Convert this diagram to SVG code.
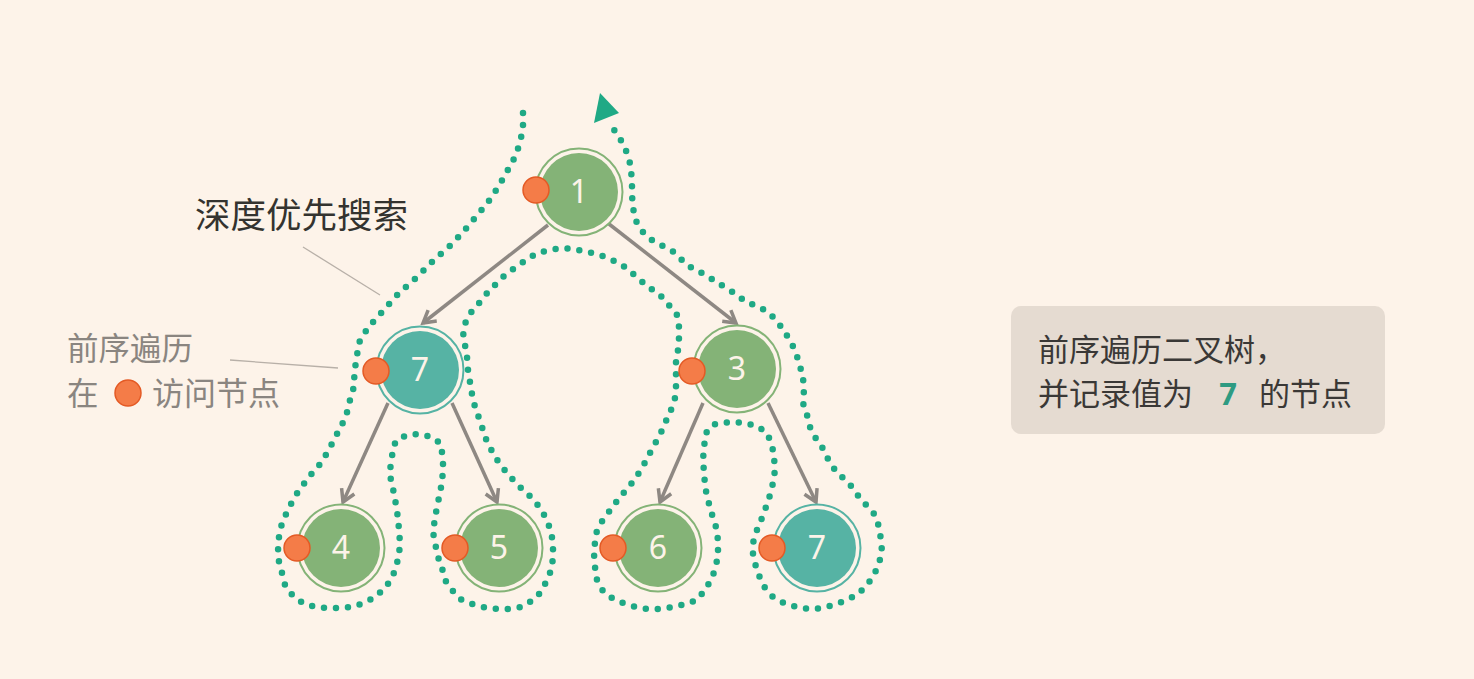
<svg xmlns="http://www.w3.org/2000/svg" width="1474" height="679" viewBox="0 0 1474 679">
  <defs>
    <style>
      .ring-green { fill: none; stroke: #84b377; stroke-width: 2; }
      .ring-teal { fill: none; stroke: #56b3a4; stroke-width: 2; }
      .fill-green { fill: #84b377; }
      .fill-teal { fill: #56b3a4; }
      .num { font-family: "Noto Sans", "DejaVu Sans", sans-serif; font-size: 32px; fill: #fdf3e9; text-anchor: middle; }
      .visit { fill: #f47c48; stroke: #e45a25; stroke-width: 1.5; }
      .edge { fill: none; stroke: #8e8883; stroke-width: 3.5; marker-end: url(#chev); }
      .trail { fill: none; stroke: #1fa985; stroke-width: 6.5; stroke-linecap: round; stroke-linejoin: round; stroke-dasharray: 0 12; }
      .leader { fill: none; stroke: #b8b0a8; stroke-width: 1.3; }
      .cjk { font-family: "Noto Sans CJK SC", "Noto Sans", sans-serif; }
    </style>
    <marker id="chev" viewBox="0 0 18 18" refX="15" refY="9" markerWidth="18" markerHeight="18" markerUnits="userSpaceOnUse" orient="auto">
      <path d="M3,2 L15,9 L3,16" fill="none" stroke="#8e8883" stroke-width="3.5" stroke-linejoin="miter"/>
    </marker>
  </defs>

  <rect width="1474" height="679" fill="#fdf3e9"/>

  <!-- depth-first trail around the tree -->
  <g id="trail">
    <polyline class="trail" points="523,113 523,126 521,138 517,152 512,163 506,173 500,184 493,195 486,205 478,214 470,224 462,233 453,243 443,252 434,260 426,268 417,277 408,285 399,293 390,303 382,312 373,322 366,331 360,340 358,350 356,360 355,370 354,380 353,392 349,403 346,417 340,428 334,440 328,451 322,462 313,472 307,480 299,490 292,502 287,512 282,523 279,537 278,548 279,562 282,573 285,585 293,596 303,603 315,607 327,608 339,608 352,607 364,603 375,597 385,588 392,578 396,567 399,555 400,543 399,530 398,518 396,505 394,493 391,482 390,470 392,457 393,447 397,440 407,435 419,434 432,437 440,443 443,457 443,470 442,482 440,493 437,507 435,518 433,532 435,543 438,557 442,568 445,580 452,590 460,599 472,604 483,607 497,609 509,609 522,607 533,600 541,592 547,580 552,568 553,555 553,543 551,532 547,520 540,508 533,499 523,490 515,482 507,473 499,463 493,453 487,442 483,430 479,418 475,407 472,394 470,382 468,370 467,357 465,345 463,332 466,321 472,311 480,302 488,292 497,283 506,274 516,267 526,260 537,253 550,250 562,248 574,249 586,252 598,254 610,259 621,264 631,272 640,280 650,288 660,295 668,304 677,315 679,327 679,338 678,350 676,362 676,373 676,387 675,398 670,413 665,423 660,435 653,447 648,457 642,468 635,479 627,489 619,498 612,508 604,518 597,530 595,542 594,554 595,567 597,580 603,591 612,598 623,603 636,607 648,609 661,609 673,607 686,604 697,600 705,590 712,578 716,566 718,554 718,542 717,530 713,518 710,507 707,497 705,485 704,472 703,460 704,447 706,433 712,425 720,423 732,422 744,423 757,426 767,433 772,445 774,457 775,470 773,483 770,495 766,507 762,518 757,530 753,543 753,554 756,567 760,578 765,588 773,597 784,603 797,607 810,609 823,608 836,604 847,600 858,594 867,585 874,575 879,563 882,552 881,540 879,527 875,515 867,506 859,497 852,487 844,479 835,470 828,459 822,447 815,437 810,427 807,415 803,403 804,390 803,378 800,366 796,353 791,342 784,331 777,321 768,312 757,306 746,302 736,294 726,288 715,281 704,274 693,269 683,261 674,252 663,246 652,240 643,232 636,221 633,208 632,195 632,182 631,170 629,158 624,146 618,135 611,126"/>
    <polygon points="600,93 619,113 594,123" fill="#1fa985"/>
  </g>

  <!-- tree edges -->
  <g id="connectors">
    <line class="edge" x1="548" y1="225" x2="423" y2="323"/>
    <line class="edge" x1="609" y1="224" x2="736" y2="323"/>
    <line class="edge" x1="388" y1="403" x2="343" y2="502"/>
    <line class="edge" x1="452" y1="403" x2="497" y2="502"/>
    <line class="edge" x1="703" y1="403" x2="660" y2="502"/>
    <line class="edge" x1="768" y1="403" x2="816" y2="502"/>
  </g>

  <!-- tree nodes -->
  <g id="node-1">
    <circle class="ring-green" cx="579" cy="192" r="43.5"/>
    <circle class="fill-green" cx="579" cy="192" r="39"/>
    <text class="num" x="579" y="203">1</text>
    <circle class="visit" cx="536" cy="190" r="13"/>
  </g>
  <g id="node-7a">
    <circle class="ring-teal" cx="420" cy="370" r="43.5"/>
    <circle class="fill-teal" cx="420" cy="370" r="39"/>
    <text class="num" x="420" y="381">7</text>
    <circle class="visit" cx="376" cy="371" r="13"/>
  </g>
  <g id="node-3">
    <circle class="ring-green" cx="737" cy="369" r="43.5"/>
    <circle class="fill-green" cx="737" cy="369" r="39"/>
    <text class="num" x="737" y="380">3</text>
    <circle class="visit" cx="692" cy="371" r="13"/>
  </g>
  <g id="node-4">
    <circle class="ring-green" cx="341" cy="548" r="43.5"/>
    <circle class="fill-green" cx="341" cy="548" r="39"/>
    <text class="num" x="341" y="559">4</text>
    <circle class="visit" cx="297" cy="548" r="13"/>
  </g>
  <g id="node-5">
    <circle class="ring-green" cx="499" cy="548" r="43.5"/>
    <circle class="fill-green" cx="499" cy="548" r="39"/>
    <text class="num" x="499" y="559">5</text>
    <circle class="visit" cx="455" cy="548" r="13"/>
  </g>
  <g id="node-6">
    <circle class="ring-green" cx="658" cy="548" r="43.5"/>
    <circle class="fill-green" cx="658" cy="548" r="39"/>
    <text class="num" x="658" y="559">6</text>
    <circle class="visit" cx="613" cy="548" r="13"/>
  </g>
  <g id="node-7b">
    <circle class="ring-teal" cx="817" cy="548" r="43.5"/>
    <circle class="fill-teal" cx="817" cy="548" r="39"/>
    <text class="num" x="817" y="559">7</text>
    <circle class="visit" cx="772" cy="548" r="13"/>
  </g>

  <!-- annotations -->
  <g id="label-dfs">
    <text class="cjk" x="195" y="228" font-size="35.5" fill="#34332f">深度优先搜索</text>
    <line class="leader" x1="303" y1="247" x2="380" y2="295"/>
  </g>
  <g id="label-preorder">
    <text class="cjk" x="67" y="360" font-size="31.5" fill="#8a8580">前序遍历</text>
    <text class="cjk" x="67" y="405" font-size="31.5" fill="#8a8580">在</text>
    <circle class="visit" cx="128" cy="393" r="13"/>
    <text class="cjk" x="152" y="405" font-size="32" fill="#8a8580">访问节点</text>
    <line class="leader" x1="230" y1="360" x2="338" y2="368"/>
  </g>

  <g id="task-box">
    <rect x="1011" y="306" width="374" height="128" rx="10" fill="#e5dbd1"/>
    <text class="cjk" x="1038" y="361" font-size="31" fill="#3a3836">前序遍历二叉树，</text>
    <text class="cjk" x="1038" y="405" font-size="31" fill="#3a3836">并记录值为</text>
    <text x="1228" y="405" font-size="31" font-weight="bold" fill="#2e9b82" text-anchor="middle" font-family="Noto Sans, DejaVu Sans, sans-serif">7</text>
    <text class="cjk" x="1259" y="405" font-size="31" fill="#3a3836">的节点</text>
  </g>
</svg>
